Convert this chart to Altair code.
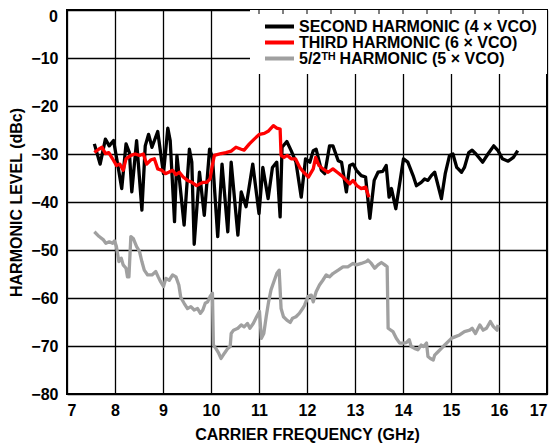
import altair as alt
import pandas as pd

# ---- data ----
second_f = [7.57, 7.69, 7.80, 7.88, 7.97, 8.06, 8.14, 8.23, 8.30, 8.35,
            8.45, 8.56, 8.63, 8.70, 8.77, 8.89, 9.01, 9.10, 9.15, 9.24,
            9.29, 9.44, 9.55, 9.60, 9.65, 9.76, 9.86, 9.97, 10.03, 10.14,
            10.23, 10.35, 10.42, 10.56, 10.63, 10.73, 10.87, 11.00, 11.08, 11.19,
            11.28, 11.37, 11.44, 11.48, 11.58, 11.67, 11.77, 11.88, 11.97, 12.06,
            12.13, 12.19, 12.30, 12.37, 12.47, 12.54, 12.65, 12.72, 12.82, 12.89,
            12.96, 13.03, 13.13, 13.22, 13.31, 13.40, 13.48, 13.58, 13.65, 13.71,
            13.76, 13.85, 13.93, 14.01, 14.10, 14.21, 14.28, 14.38, 14.45, 14.52,
            14.59, 14.66, 14.80, 14.88, 14.97, 15.04, 15.12, 15.22, 15.28, 15.37,
            15.44, 15.52, 15.66, 15.77, 15.89, 15.98, 16.07, 16.19, 16.30, 16.39]
second_db = [-27.9, -32.1, -26.9, -28.3, -27.2, -32.4, -37.2, -27.9, -29.7, -37.9,
             -27.2, -41.7, -28.3, -25.9, -28.6, -25.3, -34.1, -24.6, -27.2, -44.1,
             -30.3, -44.8, -29.0, -31.7, -48.8, -33.8, -42.8, -29.0, -30.7, -47.2,
             -32.1, -46.2, -31.7, -46.9, -37.9, -41.0, -32.1, -42.4, -32.8, -39.3,
             -32.8, -31.7, -43.1, -28.6, -27.4, -29.3, -31.7, -39.0, -31.0, -31.7,
             -29.3, -29.0, -33.4, -34.1, -28.3, -28.3, -31.4, -31.7, -37.9, -32.4,
             -32.1, -33.4, -34.5, -34.8, -43.4, -35.5, -33.8, -33.6, -32.4, -39.0,
             -37.2, -41.4, -36.2, -31.0, -31.7, -34.5, -36.6, -35.9, -35.2, -35.5,
             -34.5, -33.8, -39.3, -34.1, -30.3, -30.0, -32.8, -33.8, -32.8, -29.7,
             -29.2, -30.0, -31.7, -30.0, -28.3, -29.3, -31.0, -31.5, -30.7, -29.3]

third_f = [7.57, 7.66, 7.73, 7.80, 7.87, 7.95, 8.03, 8.10, 8.17, 8.23,
           8.33, 8.42, 8.51, 8.59, 8.66, 8.75, 8.82, 8.89, 8.98, 9.05,
           9.12, 9.20, 9.27, 9.34, 9.42, 9.51, 9.60, 9.70, 9.77, 9.84,
           9.91, 9.98, 10.02, 10.07, 10.21, 10.31, 10.42, 10.52, 10.63, 10.69,
           10.80, 10.90, 11.01, 11.11, 11.20, 11.30, 11.37, 11.44, 11.46, 11.52,
           11.59, 11.67, 11.76, 11.85, 11.93, 12.03, 12.13, 12.18, 12.25, 12.33,
           12.44, 12.54, 12.63, 12.72, 12.82, 12.89, 12.96, 13.04, 13.13, 13.22, 13.29]
third_db = [-29.7, -29.0, -28.6, -29.9, -29.7, -31.0, -32.4, -32.1, -33.4, -31.0,
            -30.3, -30.0, -30.3, -30.0, -32.1, -31.2, -31.0, -33.1, -33.4, -34.1,
            -33.8, -33.4, -34.3, -33.8, -34.8, -35.5, -35.9, -36.6, -36.2, -35.9,
            -35.9, -35.2, -32.8, -30.3, -29.9, -29.7, -29.4, -28.6, -29.0, -29.2,
            -27.9, -26.9, -25.9, -25.7, -25.2, -24.1, -24.6, -24.8, -30.3, -30.7,
            -30.3, -31.0, -31.0, -32.8, -33.8, -34.8, -33.1, -30.7, -32.4, -33.1,
            -33.8, -33.1, -33.8, -34.5, -35.5, -36.2, -35.5, -36.6, -37.2, -36.9, -39.0]

fivehalf_f = [7.57, 7.67, 7.76, 7.81, 7.88, 7.95, 7.99, 8.03, 8.08, 8.13,
              8.17, 8.23, 8.26, 8.29, 8.33, 8.38, 8.45, 8.51, 8.56, 8.61,
              8.68, 8.77, 8.85, 8.90, 8.95, 9.01, 9.06, 9.13, 9.20, 9.27,
              9.33, 9.37, 9.44, 9.51, 9.58, 9.65, 9.72, 9.78, 9.83, 9.88,
              9.93, 9.98, 10.03, 10.05, 10.10, 10.16, 10.21, 10.28, 10.35, 10.40,
              10.42, 10.47, 10.56, 10.63, 10.69, 10.76, 10.81, 10.88, 10.95, 11.01,
              11.05, 11.10, 11.15, 11.20, 11.25, 11.32, 11.37, 11.42, 11.46, 11.51,
              11.58, 11.65, 11.70, 11.77, 11.84, 11.91, 11.95, 12.02, 12.09, 12.13,
              12.19, 12.26, 12.33, 12.40, 12.47, 12.54, 12.65, 12.75, 12.85, 12.96,
              13.03, 13.13, 13.24, 13.27, 13.34, 13.41, 13.48, 13.55, 13.62, 13.67,
              13.69, 13.79, 13.86, 13.93, 14.00, 14.07, 14.13, 14.17, 14.24, 14.31,
              14.38, 14.43, 14.49, 14.52, 14.57, 14.63, 14.66, 14.73, 14.80, 14.87,
              14.94, 15.01, 15.08, 15.18, 15.28, 15.39, 15.44, 15.51, 15.60, 15.67,
              15.74, 15.82, 15.88, 15.96, 15.98]
fivehalf_db = [-46.2, -47.2, -47.9, -48.6, -48.3, -48.6, -48.1, -49.3, -52.4, -51.7,
               -53.1, -53.8, -55.6, -55.6, -47.2, -47.6, -49.3, -50.3, -52.4, -54.2,
               -55.2, -55.2, -54.5, -55.6, -56.6, -57.6, -55.9, -56.3, -55.2, -55.6,
               -57.3, -59.9, -61.1, -62.2, -61.8, -62.5, -62.2, -63.2, -62.5, -61.1,
               -60.8, -59.7, -59.0, -69.8, -70.5, -71.5, -72.6, -71.5, -70.5, -70.1,
               -67.4, -66.7, -66.3, -65.6, -66.0, -65.3, -66.3, -65.3, -63.9, -62.8,
               -68.4, -67.4, -63.9, -60.8, -58.3, -56.3, -54.9, -54.2, -62.2, -63.9,
               -64.6, -65.1, -64.2, -63.9, -63.2, -62.2, -61.5, -59.7, -59.4, -60.8,
               -58.7, -57.3, -56.3, -55.2, -55.6, -54.9, -54.2, -53.5, -53.5, -52.8,
               -53.1, -52.8, -52.4, -52.1, -52.8, -53.8, -53.1, -52.6, -53.1, -53.5,
               -66.3, -67.0, -68.4, -69.4, -69.4, -69.3, -68.7, -70.1, -70.5, -70.8,
               -69.8, -70.1, -69.4, -72.2, -72.6, -72.9, -71.9, -71.2, -70.5, -69.8,
               -69.1, -68.4, -68.1, -67.7, -67.0, -66.7, -66.3, -67.4, -65.6, -66.7,
               -66.3, -64.9, -65.9, -66.7, -65.6]

series_names = ["SECOND HARMONIC (4 \u00d7 VCO)",
                "THIRD HARMONIC (6 \u00d7 VCO)",
                "5/2\u1d40\u1d34 HARMONIC (5 \u00d7 VCO)"]
series_colors = ["#000000", "#ff0000", "#a0a0a0"]

x_grid = [7 + 0.5 * i for i in range(21)]
y_grid = [-80, -70, -60, -50, -40, -30, -20, -10, 0]
top_label = [0]
top_ticks = [11.0, 11.5, 12.0, 12.5, 13.0, 13.5, 14.0, 14.5, 15.0, 15.5, 16.0, 16.5]

rows = []
for name, fs, dbs in [(series_names[0], second_f, second_db),
                      (series_names[1], third_f, third_db),
                      (series_names[2], fivehalf_f, fivehalf_db)]:
    for i, (f, d) in enumerate(zip(fs, dbs)):
        rows.append({"series": name, "f": f, "db": d, "i": i})
df = pd.DataFrame(rows)

FONT = "Liberation Sans"
TICK_FS = 16
TITLE_FS = 16
LEG_FS = 16

xs = alt.Scale(domain=[7, 17], nice=False, zero=False)
ys = alt.Scale(domain=[-80, 0], nice=False, zero=False)
cs = alt.Scale(domain=series_names, range=series_colors)

x_enc = alt.X("f:Q", scale=xs, axis=alt.Axis(
    values=x_grid, title="CARRIER FREQUENCY (GHz)",
    labelExpr="datum.value % 1 == 0 ? datum.label : ''",
    grid=True, ticks=False, domain=False, labelPadding=8, titlePadding=8))
y_enc = alt.Y("db:Q", scale=ys, axis=alt.Axis(
    values=y_grid, title="HARMONIC LEVEL (dBc)",
    labelExpr="datum.value == 0 ? '' : datum.label",
    grid=True, ticks=False, domain=False, labelPadding=9, titlePadding=6))

legend = alt.Legend(
    title=None, orient="none", legendX=196, legendY=9,
    symbolType="stroke", symbolSize=841, symbolStrokeWidth=4,
    clipHeight=15, rowPadding=-1.5, labelOffset=3, padding=0,
    labelFont=FONT, labelFontSize=LEG_FS, labelFontWeight="bold",
    labelColor="#000", labelLimit=400)

base = alt.Chart(df).mark_line(strokeWidth=3.3, strokeJoin="round").encode(
    x=x_enc, y=y_enc,
    color=alt.Color("series:N", scale=cs, legend=legend),
    order="i:Q",
)

layers = [base.transform_filter(alt.datum.series == series_names[k]) for k in (2, 0, 1)]

box = alt.Chart(pd.DataFrame({"a": [0]})).mark_rect(color="white").encode(
    x=alt.value(183), x2=alt.value(480), y=alt.value(0), y2=alt.value(64))

ticks = alt.Chart(pd.DataFrame({"t": top_ticks})).mark_rule(
    color="#000", strokeWidth=1).encode(
    x=alt.X("t:Q", scale=xs), y=alt.value(0), y2=alt.value(4))

zero_lab = alt.Chart(pd.DataFrame({"v": top_label})).mark_text(
    font=FONT, fontSize=TICK_FS, fontWeight="bold", color="#000",
    align="right", baseline="top", dy=-1).encode(
    x=alt.value(-9), y=alt.Y("v:Q", scale=ys), text=alt.Text("v:Q"))

chart = alt.layer(*layers, box, ticks, zero_lab).properties(
    width=480, height=384,
    autosize=alt.AutoSizeParams(type="none"),
    padding={"left": 59, "top": 2, "right": 3, "bottom": 50},
).configure_view(stroke="#000", strokeWidth=2).configure_axis(
    gridColor="#000", gridWidth=1.3, gridOpacity=1,
    labelFont=FONT, labelFontSize=TICK_FS, labelFontWeight="bold", labelColor="#000",
    titleFont=FONT, titleFontSize=TITLE_FS, titleFontWeight="bold", titleColor="#000",
)

chart.save("out.html", embed_options={"renderer": "svg", "actions": False})
